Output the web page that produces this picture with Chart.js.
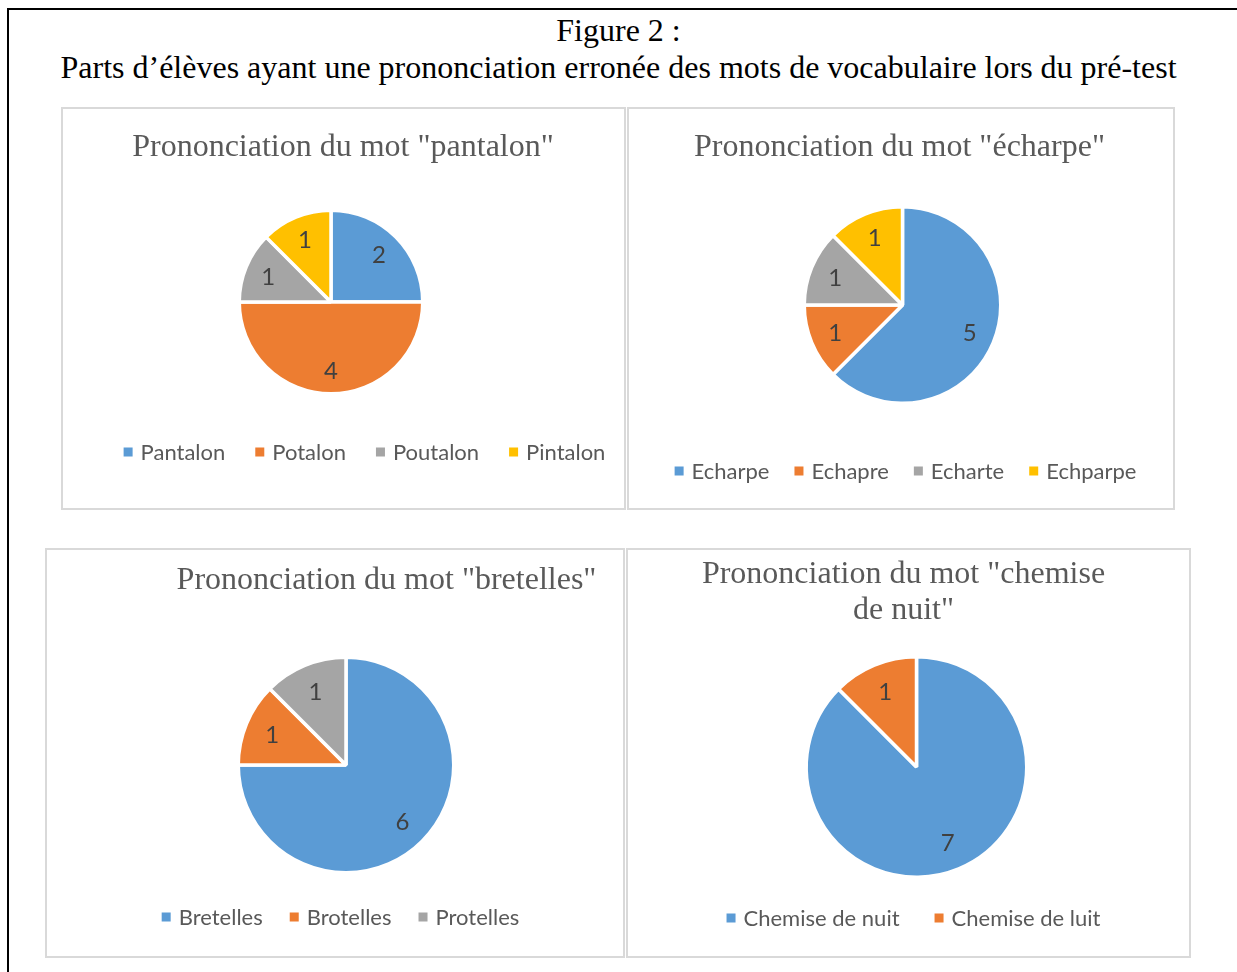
<!DOCTYPE html>
<html>
<head>
<meta charset="utf-8">
<script src="https://cdn.jsdelivr.net/npm/chart.js@4.4.0/dist/chart.umd.min.js"></script>
<style>
  html, body { margin:0; padding:0; background:#fff; }
  body { width:1237px; height:972px; position:relative; overflow:hidden; }
  .frame { position:absolute; left:7px; top:8px; width:1300px; height:1000px;
           border-top:2px solid #000; border-left:2px solid #000; box-sizing:border-box; }
  .head { position:absolute; left:0; width:1237px; text-align:center;
          font-family:"Liberation Serif","Times New Roman",serif; font-size:32px; line-height:32px; color:#000; }
  .panel { position:absolute; box-sizing:border-box; border:2px solid #d9d9d9; background:#fff; }
  canvas { position:absolute; left:0; top:0; }
</style>
</head>
<body>
<div class="frame"></div>
<div class="head" style="top:14px">Figure 2 :</div>
<div class="head" style="top:51px">Parts d’élèves ayant une prononciation erronée des mots de vocabulaire lors du pré-test</div>

<div class="panel" style="left:61px;top:107px;width:565px;height:403px"></div>
<div class="panel" style="left:627px;top:107px;width:548px;height:403px"></div>
<div class="panel" style="left:45px;top:548px;width:580px;height:410px"></div>
<div class="panel" style="left:626px;top:548px;width:565px;height:410px"></div>

<canvas id="c1" width="1237" height="972"></canvas>
<canvas id="c2" width="1237" height="972"></canvas>
<canvas id="c3" width="1237" height="972"></canvas>
<canvas id="c4" width="1237" height="972"></canvas>

<script>
// ---- Data ----
const title1 = ['Prononciation du mot "pantalon"'];
const labels1 = ['Pantalon', 'Potalon', 'Poutalon', 'Pintalon'];
const values1 = [2, 4, 1, 1];

const title2 = ['Prononciation du mot "écharpe"'];
const labels2 = ['Echarpe', 'Echapre', 'Echarte', 'Echparpe'];
const values2 = [5, 1, 1, 1];

const title3 = ['Prononciation du mot "bretelles"'];
const labels3 = ['Bretelles', 'Brotelles', 'Protelles'];
const values3 = [6, 1, 1];

const title4 = ['Prononciation du mot "chemise', 'de nuit"'];
const labels4 = ['Chemise de nuit', 'Chemise de luit'];
const values4 = [7, 1];

const palette = ['#5B9BD5', '#ED7D31', '#A5A5A5', '#FFC000'];

// ---- Plugin: panel title, data labels, legend ----
const decor = {
  id: 'decor',
  afterDraw(chart, args, o) {
    const ctx = chart.ctx;
    ctx.save();
    // title
    ctx.font = o.titleSize + 'px "Liberation Serif", "Times New Roman", serif';
    ctx.fillStyle = '#595959';
    ctx.textAlign = 'center';
    ctx.textBaseline = 'alphabetic';
    o.title.forEach((line, i) => ctx.fillText(line, o.titleX, o.titleY + i * o.titleLineH));
    // data labels
    const meta = chart.getDatasetMeta(0);
    const ds = chart.data.datasets[0];
    ctx.font = o.labelSize + 'px Lato, "Open Sans", sans-serif';
    ctx.fillStyle = '#404040';
    meta.data.forEach((arc, i) => {
      const p = arc.getProps(['x', 'y', 'startAngle', 'endAngle', 'outerRadius'], true);
      const mid = (p.startAngle + p.endAngle) / 2;
      const r = p.outerRadius * o.labelR;
      ctx.fillText(String(ds.data[i]), p.x + Math.cos(mid) * r, p.y + Math.sin(mid) * r + o.labelSize * 0.36);
    });
    // legend
    ctx.font = o.fontSize + 'px Lato, "Open Sans", sans-serif';
    ctx.textAlign = 'left';
    const box = 9, boxGap = 8;
    const labels = chart.data.labels;
    const widths = labels.map(t => box + boxGap + ctx.measureText(t).width);
    const total = widths.reduce((a, b) => a + b, 0) + o.legendGap * (labels.length - 1);
    let x = o.legendX - total / 2;
    labels.forEach((t, i) => {
      ctx.fillStyle = ds.backgroundColor[i];
      ctx.fillRect(x, o.legendY - 12, box, box);
      ctx.fillStyle = '#595959';
      ctx.fillText(t, x + box + boxGap, o.legendY);
      x += widths[i] + o.legendGap;
    });
    ctx.restore();
  }
};

function makePie(id, labels, values, cx, cy, r, deco) {
  const W = 1237, H = 972;
  const padding = {
    left: Math.max(0, 2 * cx - W), right: Math.max(0, W - 2 * cx),
    top: Math.max(0, 2 * cy - H), bottom: Math.max(0, H - 2 * cy)
  };
  const bw = 3.5;
  return new Chart(document.getElementById(id), {
    type: 'pie',
    data: {
      labels: labels,
      datasets: [{
        data: values,
        backgroundColor: palette.slice(0, values.length),
        borderColor: '#ffffff',
        borderWidth: bw,
        hoverOffset: 0,
        offset: 0,
        radius: r + bw / 2
      }]
    },
    options: {
      responsive: false,
      animation: false,
      events: [],
      layout: { padding: padding },
      plugins: {
        legend: { display: false },
        tooltip: { enabled: false },
        title: { display: false },
        decor: Object.assign({ titleSize: 32, titleLineH: 36, fontSize: 22, labelSize: 24, labelR: 0.74 }, deco)
      }
    },
    plugins: [decor]
  });
}

makePie('c1', labels1, values1, 331, 302, 90,
  { title: title1, titleX: 343, titleY: 156, legendX: 364.5, legendY: 459.5, legendGap: 30 });
makePie('c2', labels2, values2, 902.5, 305, 96.5,
  { title: title2, titleX: 899.5, titleY: 156, legendX: 905.5, legendY: 478.5, legendGap: 25 });
makePie('c3', labels3, values3, 346, 765, 106,
  { title: title3, titleX: 386.5, titleY: 589, legendX: 340.5, legendY: 924.5, legendGap: 27 });
makePie('c4', labels4, values4, 916.5, 767, 108.5,
  { title: title4, titleX: 903.5, titleY: 583, legendX: 913.5, legendY: 925.5, legendGap: 35 });
</script>
</body>
</html>
